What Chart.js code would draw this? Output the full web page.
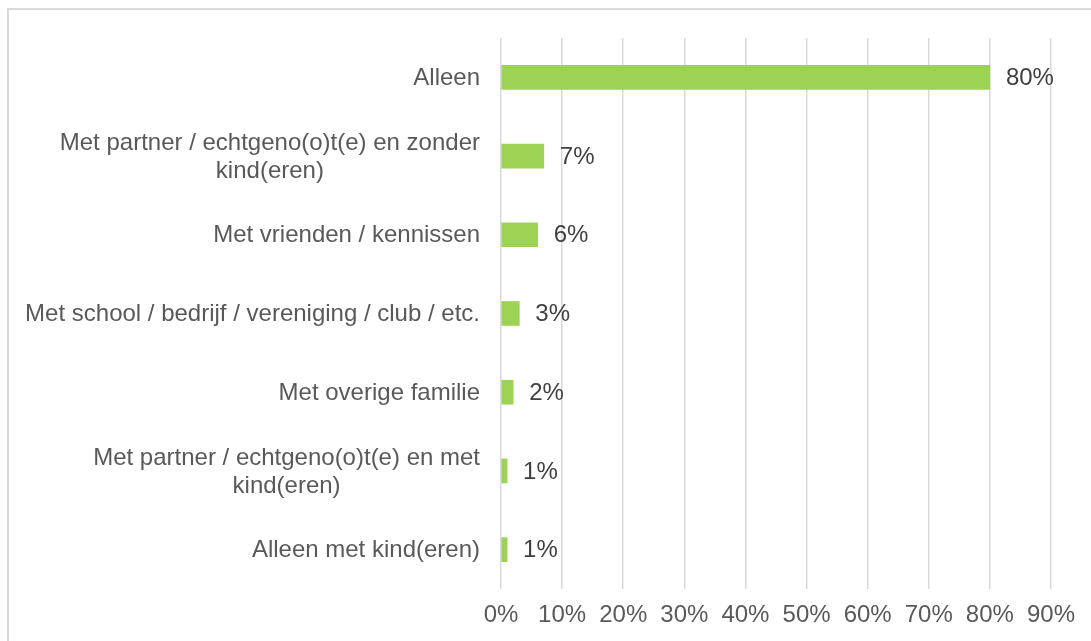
<!DOCTYPE html>
<html>
<head>
<meta charset="utf-8">
<title>Met wie</title>
<script src="https://cdn.jsdelivr.net/npm/chart.js@4.4.1/dist/chart.umd.min.js"></script>
<style>
  html, body { margin: 0; padding: 0; background: #ffffff; }
  #wrap { width: 1091px; height: 641px; }
</style>
</head>
<body>
<div id="wrap"><canvas id="chart" width="1091" height="641"></canvas></div>
<script>
// Categories (wrapped lines as arrays) and their shares in percent
const categories = [
  ['Alleen'],
  ['Met partner / echtgeno(o)t(e) en zonder', 'kind(eren)'],
  ['Met vrienden / kennissen'],
  ['Met school / bedrijf / vereniging / club / etc.'],
  ['Met overige familie'],
  ['Met partner / echtgeno(o)t(e) en met', 'kind(eren)'],
  ['Alleen met kind(eren)']
];
const shares = [80, 7, 6, 3, 2, 1, 1];
const axisTicks = [0, 10, 20, 30, 40, 50, 60, 70, 80, 90];

const FONT = '"Liberation Sans", Arial, sans-serif';
const FONT_SIZE = 24;
const TEXT = '#595959';

// Outer frame around the chart
const framePlugin = {
  id: 'frame',
  beforeDraw(chart) {
    const ctx = chart.ctx;
    ctx.save();
    ctx.strokeStyle = '#d9d9d9';
    ctx.lineWidth = 2;
    ctx.strokeRect(8, 9, 2000, 2000);
    ctx.restore();
  }
};

// Category labels: each block right-aligned, its lines centred on each other
const categoryLabelPlugin = {
  id: 'categoryLabels',
  afterDraw(chart) {
    const ctx = chart.ctx;
    const y = chart.scales.y;
    const right = chart.chartArea.left - 21;
    const lineGap = 28;
    ctx.save();
    ctx.font = FONT_SIZE + 'px ' + FONT;
    ctx.fillStyle = TEXT;
    ctx.textAlign = 'center';
    ctx.textBaseline = 'middle';
    categories.forEach((lines, i) => {
      const cy = y.getPixelForValue(i) + 1;
      const w = Math.max(...lines.map(l => ctx.measureText(l).width));
      const cx = right - w / 2;
      const y0 = cy - (lines.length - 1) * lineGap / 2;
      lines.forEach((l, k) => ctx.fillText(l, cx, y0 + k * lineGap));
    });
    ctx.restore();
  }
};

// Value labels just past the end of each bar
const valueLabelPlugin = {
  id: 'valueLabels',
  afterDatasetsDraw(chart) {
    const ctx = chart.ctx;
    const meta = chart.getDatasetMeta(0);
    ctx.save();
    ctx.font = FONT_SIZE + 'px ' + FONT;
    ctx.fillStyle = '#404040';
    ctx.textAlign = 'left';
    ctx.textBaseline = 'middle';
    meta.data.forEach((bar, i) => {
      ctx.fillText(shares[i] + '%', bar.x + 16, bar.y + 1);
    });
    ctx.restore();
  }
};

new Chart(document.getElementById('chart'), {
  type: 'bar',
  data: {
    labels: categories,
    datasets: [{
      data: shares,
      backgroundColor: '#9dd354',
      borderWidth: 0,
      barThickness: 24
    }]
  },
  options: {
    indexAxis: 'y',
    responsive: false,
    devicePixelRatio: 1,
    animation: false,
    layout: { padding: { top: 38, right: 40, bottom: 0, left: 0 } },
    plugins: {
      legend: { display: false },
      tooltip: { enabled: false }
    },
    scales: {
      x: {
        min: 0,
        max: 90,
        afterBuildTicks(scale) {
          scale.ticks = axisTicks.map(v => ({ value: v }));
        },
        afterFit(scale) { scale.height = 52; },
        grid: { color: '#d9d9d9', lineWidth: 1.5, drawTicks: false },
        border: { display: false },
        ticks: {
          padding: 12,
          color: TEXT,
          font: { family: FONT, size: FONT_SIZE },
          callback: v => v + '%'
        }
      },
      y: {
        afterFit(scale) { scale.width = 501; },
        grid: { display: false, drawTicks: false },
        border: { display: false },
        ticks: { display: false }
      }
    }
  },
  plugins: [framePlugin, categoryLabelPlugin, valueLabelPlugin]
});
</script>
</body>
</html>
